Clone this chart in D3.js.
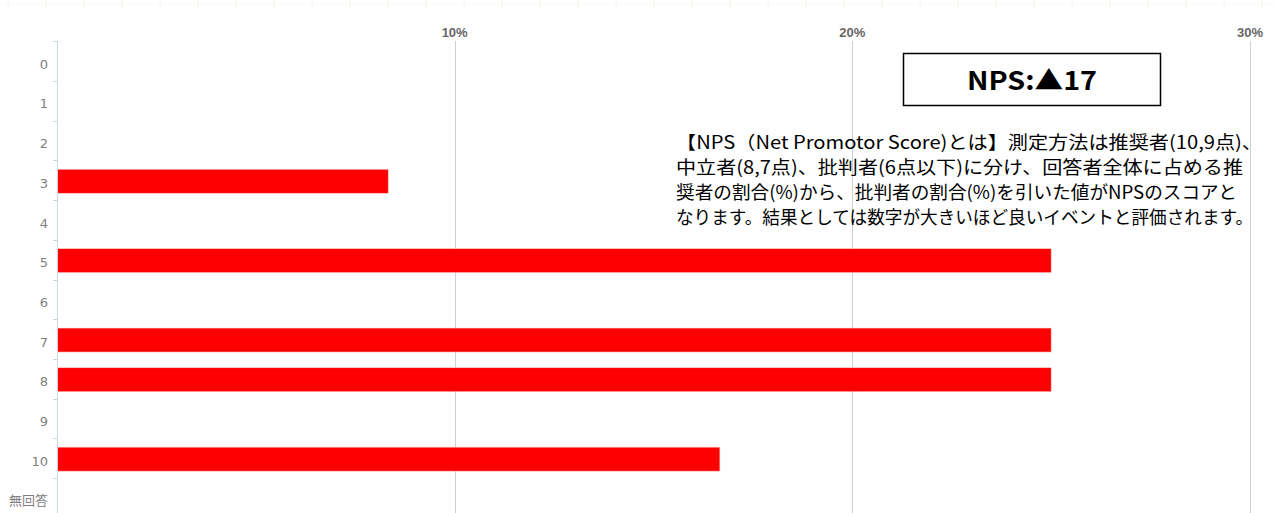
<!DOCTYPE html>
<html>
<head>
<meta charset="utf-8">
<script src="https://cdn.jsdelivr.net/npm/d3@7"></script>
<style>
  html, body { margin: 0; padding: 0; background: #fff; }
  svg { display: block; }
</style>
</head>
<body>
<div id="chart"></div>
<script>
// scores 0..10 plus no-answer
const categories = ['0', '1', '2', '3', '4', '5', '6', '7', '8', '9', '10', '無回答'];
const percents = [0, 0, 0, 8.33, 0, 25, 0, 25, 25, 0, 16.67, 0];
const xTicks = [10, 20, 30];
const npsLabel = 'NPS:▲17';
const noteLines = [
  '【NPS（Net Promotor Score)とは】測定方法は推奨者(10,9点)、',
  '中立者(8,7点)、批判者(6点以下)に分け、回答者全体に占める推',
  '奨者の割合(%)から、批判者の割合(%)を引いた値がNPSのスコアと',
  'なります。結果としては数字が大きいほど良いイベントと評価されます。'
];
// widths the note lines take in the original
const noteWidths = [586, 567, 561, 577];

const width = 1275, height = 513;
const plotLeft = 57, plotRight = 1250, plotTop = 41;

const svg = d3.select('#chart').append('svg')
  .attr('width', width)
  .attr('height', height);

// very faint ruler strip at the top edge
const ruler = svg.append('g');
ruler.append('line')
  .attr('x1', 0).attr('x2', width).attr('y1', 4).attr('y2', 4)
  .attr('stroke', '#f7f7ef').attr('stroke-dasharray', '2,2');
ruler.selectAll('line.rt')
  .data(d3.range(8, width, 38))
  .join('line')
  .attr('class', 'rt')
  .attr('x1', d => d).attr('x2', d => d)
  .attr('y1', 0).attr('y2', 7)
  .attr('stroke', '#f2f2e8');

const x = d3.scaleLinear()
  .domain([0, 30])
  .range([plotLeft, plotRight]);

const y = d3.scaleBand()
  .domain(categories)
  .range([42.3, 42.3 + 39.7 * categories.length])
  .padding(0);

// gridlines
svg.append('g')
  .selectAll('line')
  .data(xTicks)
  .join('line')
  .attr('x1', d => Math.round(x(d)) + 0.5).attr('x2', d => Math.round(x(d)) + 0.5)
  .attr('y1', plotTop).attr('y2', height)
  .attr('stroke', '#cfcfcf')
  .attr('stroke-width', 1);

// top axis labels
svg.append('g')
  .selectAll('text')
  .data(xTicks)
  .join('text')
  .attr('x', d => x(d))
  .attr('y', 37)
  .attr('text-anchor', 'middle')
  .attr('font-family', '"Liberation Sans", Arial, sans-serif')
  .attr('font-size', '13px')
  .attr('font-weight', 'bold')
  .attr('fill', '#666')
  .text(d => d + '%');

// bars
const bh = y.step() * 0.605;
svg.append('g')
  .selectAll('rect')
  .data(categories.map((c, i) => ({ c, v: percents[i] })).filter(d => d.v > 0))
  .join('rect')
  .attr('x', x(0))
  .attr('y', d => y(d.c) + (y.step() - bh) / 2)
  .attr('width', d => x(d.v) - x(0))
  .attr('height', bh)
  .attr('fill', '#ff0000')
  .attr('stroke', '#ffd0d0')
  .attr('stroke-width', 0.6);

// left axis
const axis = svg.append('g');
axis.append('line')
  .attr('x1', plotLeft + 0.5).attr('x2', plotLeft + 0.5)
  .attr('y1', plotTop).attr('y2', height)
  .attr('stroke', '#ccd6eb');
axis.selectAll('line.tk')
  .data(categories)
  .join('line')
  .attr('class', 'tk')
  .attr('x1', plotLeft - 4).attr('x2', plotLeft)
  .attr('y1', d => Math.round(y(d)) - 0.5).attr('y2', d => Math.round(y(d)) - 0.5)
  .attr('stroke', '#ccd6eb');
axis.selectAll('text')
  .data(categories)
  .join('text')
  .attr('x', 48)
  .attr('y', d => y(d) + y.step() / 2 + 2)
  .attr('dy', '0.35em')
  .attr('text-anchor', 'end')
  .attr('font-family', '"DejaVu Sans", "Noto Sans CJK JP", sans-serif')
  .attr('font-size', '13px')
  .attr('fill', '#808080')
  .text(d => d);

// NPS box
const box = svg.append('g');
box.append('rect')
  .attr('x', 903.5).attr('y', 53.5)
  .attr('width', 257).attr('height', 52)
  .attr('fill', '#fff')
  .attr('stroke', '#000')
  .attr('stroke-width', 1.5);
box.append('text')
  .attr('x', 967).attr('y', 81)
  .attr('dy', '0.36em')
  .attr('textLength', 130)
  .attr('lengthAdjust', 'spacingAndGlyphs')
  .attr('font-family', '"Noto Sans CJK JP", sans-serif')
  .attr('font-size', '26px')
  .attr('font-weight', 'bold')
  .attr('fill', '#000')
  .text(npsLabel);

// explanation text
svg.append('g')
  .selectAll('text')
  .data(noteLines)
  .join('text')
  .attr('x', 676)
  .attr('y', (d, i) => 143 + i * 25)
  .attr('dy', '0.36em')
  .attr('textLength', (d, i) => noteWidths[i])
  .attr('lengthAdjust', 'spacingAndGlyphs')
  .attr('font-family', '"Noto Sans CJK JP", sans-serif')
  .attr('font-size', '18px')
  .attr('fill', '#000')
  .text(d => d);
</script>
</body>
</html>
